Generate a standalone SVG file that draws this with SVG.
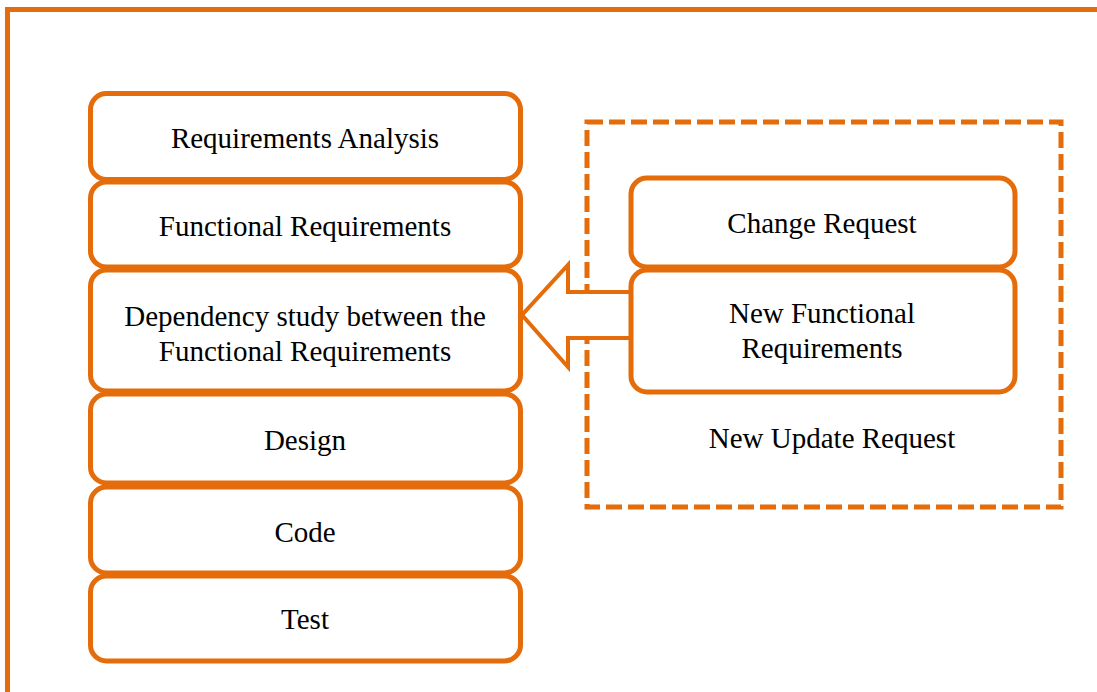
<svg xmlns="http://www.w3.org/2000/svg" width="1097" height="692" viewBox="0 0 1097 692">
  <style>
    .frame { fill: none; stroke: #E46C0A; stroke-width: 5; }
    .box { fill: #FFFFFF; stroke: #E46C0A; stroke-width: 5; }
    .group { fill: none; stroke: #E46C0A; stroke-width: 5; stroke-dasharray: 16 6; }
    .arrow { fill: #FFFFFF; stroke: #E46C0A; stroke-width: 4; stroke-linejoin: miter; }
    .label { font-family: "Liberation Serif", "Times New Roman", serif; font-size: 29px; fill: #000000; text-anchor: middle; }
  </style>

  <!-- outer frame, running off the right and bottom edges -->
  <path class="frame" d="M7.5,700 V9.5 H1100"/>

  <!-- update request group -->
  <g id="update-request">
    <rect class="group" x="587" y="122" width="474" height="385"/>
    <text class="label" x="832" y="448">New Update Request</text>
  </g>

  <!-- process stack -->
  <g id="requirements-analysis">
    <rect class="box" x="90.5" y="93.5" width="430" height="86" rx="16"/>
    <text class="label" x="305" y="148">Requirements Analysis</text>
  </g>
  <g id="functional-requirements">
    <rect class="box" x="90.5" y="182" width="430" height="85" rx="16"/>
    <text class="label" x="305" y="236">Functional Requirements</text>
  </g>
  <g id="dependency-study">
    <rect class="box" x="90.5" y="270" width="430" height="121" rx="16"/>
    <text class="label" x="305" y="326">Dependency study between the</text>
    <text class="label" x="305" y="361">Functional Requirements</text>
  </g>
  <g id="design">
    <rect class="box" x="90.5" y="394" width="430" height="89" rx="16"/>
    <text class="label" x="305" y="450">Design</text>
  </g>
  <g id="code">
    <rect class="box" x="90.5" y="487" width="430" height="86" rx="16"/>
    <text class="label" x="305" y="542">Code</text>
  </g>
  <g id="test">
    <rect class="box" x="90.5" y="576" width="430" height="85" rx="16"/>
    <text class="label" x="305" y="629">Test</text>
  </g>

  <!-- block arrow feeding new requirements into the dependency study -->
  <g id="connectors">
    <path class="arrow" d="M631,292 H568 V265 L522,315 L568,367 V338 H631"/>
  </g>

  <g id="change-request">
    <rect class="box" x="631" y="178" width="384" height="89" rx="16"/>
    <text class="label" x="822" y="233">Change Request</text>
  </g>
  <g id="new-functional-requirements">
    <rect class="box" x="631" y="270" width="384" height="122" rx="16"/>
    <text class="label" x="822" y="323">New Functional</text>
    <text class="label" x="822" y="358">Requirements</text>
  </g>
</svg>
